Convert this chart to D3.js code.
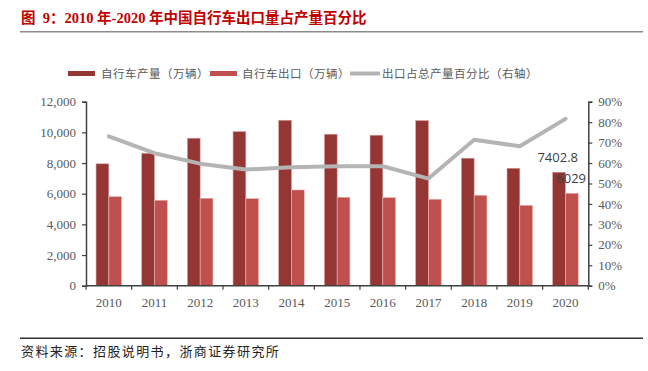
<!DOCTYPE html>
<html><head><meta charset="utf-8">
<script src="https://cdn.jsdelivr.net/npm/d3@7"></script>
<style>body{margin:0;background:#fff}svg{display:block}</style>
</head><body>
<script>
const years = ["2010","2011","2012","2013","2014","2015","2016","2017","2018","2019","2020"];
const production = [7950, 8640, 9620, 10050, 10790, 9880, 9815, 10770, 8315, 7660, 7402.8];
const exports_ = [5810, 5575, 5705, 5680, 6245, 5770, 5745, 5640, 5900, 5245, 6029];
const exportShare = [73.1, 64.8, 59.7, 56.8, 57.9, 58.4, 58.4, 52.4, 71.4, 68.2, 81.6];
const leftTicks = [0, 2000, 4000, 6000, 8000, 10000, 12000];
const rightTicks = [0, 10, 20, 30, 40, 50, 60, 70, 80, 90];

(function(){
const W = 648, H = 371;
const svg = d3.select("body").append("svg").attr("width", W).attr("height", H);

const cjk = "'Noto Sans CJK SC', sans-serif";
// title
svg.append("text").attr("x", 21).attr("y", 23)
  .attr("font-family", "'Liberation Serif', 'Noto Sans CJK SC', serif")
  .attr("font-weight", "bold").attr("font-size", 14.5).attr("fill", "#c00000")
  .attr("xml:space", "preserve")
  .text("图  9：2010 年-2020 年中国自行车出口量占产量百分比");
svg.append("line").attr("x1", 20).attr("x2", 643).attr("y1", 31.7).attr("y2", 31.7)
  .attr("stroke", "#8c8c8c").attr("stroke-width", 1.5);

const pl = 86, pr = 588.3, pt = 101.7, pb = 285.7;
const x = d3.scaleBand().domain(years).range([pl, pr]).padding(0);
const yL = d3.scaleLinear().domain([0, 12000]).range([pb, pt]);
const yR = d3.scaleLinear().domain([0, 90]).range([pb, pt]);
const bw = x.bandwidth() * 0.28;
const off = (x.bandwidth() - 2 * bw) / 2;

const colProd = "#943634", colExp = "#c0504d", colLine = "#b4b4b4";

// bars
svg.append("g").selectAll("rect").data(years).join("rect")
  .attr("x", d => x(d) + off).attr("width", bw)
  .attr("y", (d, i) => yL(production[i])).attr("height", (d, i) => pb - yL(production[i]))
  .attr("fill", colProd).attr("stroke", "#d9a3a2").attr("stroke-width", 0.6);
svg.append("g").selectAll("rect").data(years).join("rect")
  .attr("x", d => x(d) + off + bw).attr("width", bw)
  .attr("y", (d, i) => yL(exports_[i])).attr("height", (d, i) => pb - yL(exports_[i]))
  .attr("fill", colExp).attr("stroke", "#eab8b7").attr("stroke-width", 0.6);

// line
const line = d3.line().x((d, i) => x(years[i]) + x.bandwidth() / 2).y(d => yR(d));
svg.append("path").datum(exportShare).attr("d", line)
  .attr("fill", "none").attr("stroke", colLine).attr("stroke-width", 4)
  .attr("stroke-linecap", "round").attr("stroke-linejoin", "round");

// axes
const axisFont = "'Liberation Serif', 'Times New Roman', serif";
const gL = svg.append("g").attr("transform", `translate(${pl},0)`)
  .call(d3.axisLeft(yL).tickValues(leftTicks).tickSize(4).tickPadding(6).tickFormat(d3.format(",")));
const gR = svg.append("g").attr("transform", `translate(${pr},0)`)
  .call(d3.axisRight(yR).tickValues(rightTicks).tickSize(4).tickPadding(6).tickFormat(d => d + "%"));
const gX = svg.append("g").attr("transform", `translate(0,${pb})`)
  .call(d3.axisBottom(x).tickSize(0).tickPadding(12));
gX.selectAll(".bt").data(years.concat(["end"])).join("line").attr("class", "bt")
  .attr("x1", (d, i) => pl + i * x.step()).attr("x2", (d, i) => pl + i * x.step())
  .attr("y1", 0).attr("y2", 4).attr("stroke", "#404040").attr("stroke-width", 1.2);
[gL, gR, gX].forEach(g => {
  g.select(".domain").attr("stroke", "#404040").attr("stroke-width", 1.5);
  g.selectAll(".tick line").attr("stroke", "#404040").attr("stroke-width", 1.2);
  g.selectAll("text").attr("font-family", axisFont).attr("font-size", 13).attr("fill", "#595959");
});
gX.select(".domain").attr("d", `M${pl},0H${pr}`);

// data labels for 2020
svg.append("text").attr("x", 578).attr("y", 162).attr("text-anchor", "end")
  .attr("font-family", "'Open Sans', 'Liberation Sans', sans-serif").attr("font-size", 13).attr("fill", "#404040")
  .text(production[10]);
svg.append("text").attr("x", 586).attr("y", 183).attr("text-anchor", "end")
  .attr("font-family", "'Open Sans', 'Liberation Sans', sans-serif").attr("font-size", 13).attr("fill", "#404040")
  .text(exports_[10]);

// legend
const leg = svg.append("g").attr("font-family", cjk).attr("font-size", 11.5).attr("fill", "#595959");
const legItems = [
  {type: "rect", color: colProd, x0: 68, tx: 101, label: "自行车产量（万辆）"},
  {type: "rect", color: colExp, x0: 210, tx: 242, label: "自行车出口（万辆）"},
  {type: "line", color: colLine, x0: 350, tx: 382, label: "出口占总产量百分比（右轴）"}
];
legItems.forEach(it => {
  if (it.type === "rect") leg.append("rect").attr("x", it.x0).attr("y", 71).attr("width", 27).attr("height", 5).attr("fill", it.color);
  else leg.append("line").attr("x1", it.x0).attr("x2", it.x0 + 30).attr("y1", 73.5).attr("y2", 73.5)
    .attr("stroke", it.color).attr("stroke-width", 4);
  leg.append("text").attr("x", it.tx).attr("y", 78).attr("letter-spacing", 0.5).text(it.label);
});

// footer
svg.append("line").attr("x1", 20).attr("x2", 643).attr("y1", 338.3).attr("y2", 338.3)
  .attr("stroke", "#333").attr("stroke-width", 1.5);
svg.append("text").attr("x", 21).attr("y", 356).attr("font-family", cjk).attr("font-size", 13)
  .attr("letter-spacing", 1.4).attr("fill", "#222").text("资料来源：招股说明书，浙商证券研究所");
})();
</script>
</body></html>
